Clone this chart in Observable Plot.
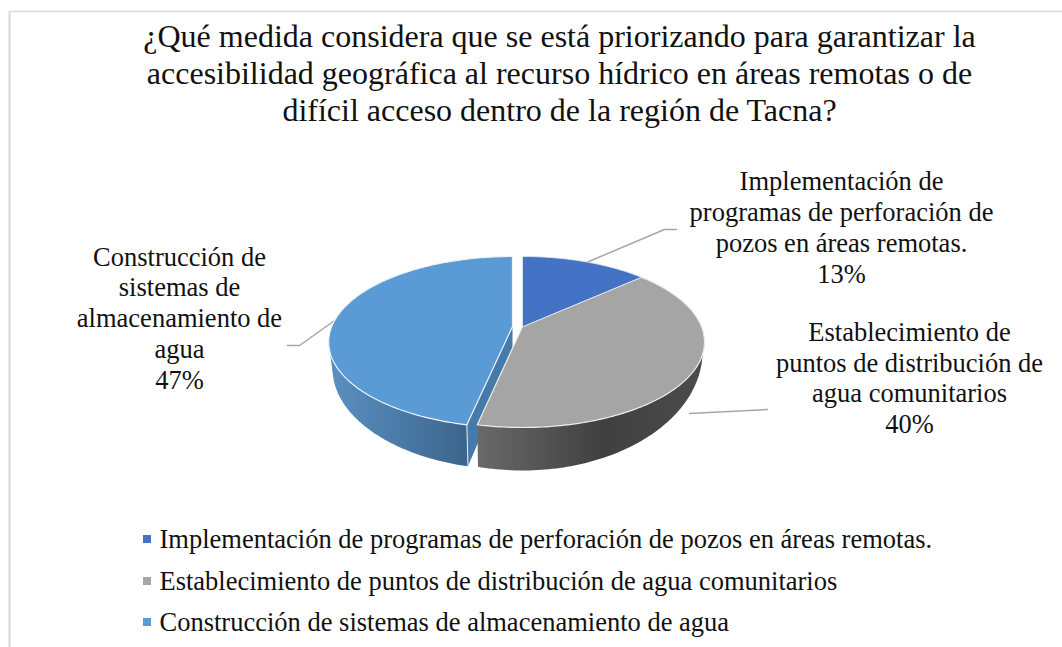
<!DOCTYPE html>
<html lang="es"><head><meta charset="utf-8">
<script src="https://cdn.jsdelivr.net/npm/d3@7"></script>
<script src="https://cdn.jsdelivr.net/npm/@observablehq/plot@0.6"></script>
<style>html,body{margin:0;padding:0;background:#fff;overflow:hidden}svg{display:block}</style>
</head><body><div id="chart"></div>
<script>
// Data
const categories = [
  "Implementación de programas de perforación de pozos en áreas remotas.",
  "Establecimiento de puntos de distribución de agua comunitarios",
  "Construcción de sistemas de almacenamiento de agua"
];
const shares = [13.33, 40, 46.67];
const colors = ["#4472C4", "#A5A5A5", "#5B9BD5"];
const titleLines = [
  "¿Qué medida considera que se está priorizando para garantizar la",
  "accesibilidad geográfica al recurso hídrico en áreas remotas o de",
  "difícil acceso dentro de la región de Tacna?"
];
const calloutLines = [
  ["Implementación de", "programas de perforación de", "pozos en áreas remotas."],
  ["Establecimiento de", "puntos de distribución de", "agua comunitarios"],
  ["Construcción de", "sistemas de", "almacenamiento de", "agua"]
];

// Layout
const W = 1062, H = 647, serif = "Liberation Serif";
const top3d = {x0: 522, y0: 326, rx: 179, ry: 82.7, k: 0.181};
const lowApexY = 361, lowRx = 180;
const lowGray = {c: 351, s: 119}, lowBlue = {c: 368, s: 101};
const explode = [[0,0],[0,0],[-10,0]];
const rimScale = [1, 1, 1.01];
const calloutX = [841, 909, 179];
const calloutY = [[181,212,243,274],[332,363,393,424],[257,287,318,349,380]];
const leaders = [
  [[586,262],[664,229],[676,229]],
  [[689,413],[767,409]],
  [[337,318],[299,345],[287,345]]
];
const legendY = [539, 581, 622];

// Geometry derived from the shares
const total = d3.sum(shares);
let acc = 0;
const arcs = shares.map(v => { const a = acc / total * 360; acc += v; return [a, acc / total * 360]; });
const proj = (deg, off = [0,0], sc = 1) => {
  const p = top3d, t = deg * Math.PI / 180, u = Math.sin(t), v = Math.cos(t), d = 1 + p.k * v;
  return {x: p.x0 + off[0] + sc * p.rx * u / d, y: p.y0 + off[1] - p.ry * v / d};
};
const lowRim = (deg, off, e) => {
  const xo = Math.min(lowRx, Math.abs(proj(deg).x - top3d.x0) * 0.985), sgn = proj(deg).x < top3d.x0 ? -1 : 1;
  return {x: top3d.x0 + off[0] + sgn * xo, y: e.c + e.s * Math.sqrt(1 - (xo / lowRx) ** 2)};
};
const sweep = (a, b) => { const n = Math.max(2, Math.ceil(Math.abs(b - a))); return d3.range(n + 1).map(i => a + (b - a) * i / n); };
const apex = off => ({x: top3d.x0 + off[0], y: top3d.y0 + off[1]});
const wedge = i => [apex(explode[i]), ...sweep(...arcs[i]).map(a => proj(a, explode[i], rimScale[i]))];
const wall = (a, b, off, e, sc) => [...sweep(a, b).map(t => proj(t, off, sc)), ...sweep(b, a).map(t => lowRim(t, off, e))];

const xy = {x: "x", y: "y"};
const face = (pts, fill, stroke = "none", sw = 0) =>
  Plot.line(pts, {...xy, fill, stroke, strokeWidth: sw, curve: "linear-closed", strokeLinejoin: "round"});

const defs = () => {
  const s = d3.create("svg:defs");
  const grad = (id, x1, x2, stops) => {
    const g = s.append("linearGradient").attr("id", id).attr("gradientUnits", "userSpaceOnUse")
      .attr("x1", x1).attr("x2", x2).attr("y1", 0).attr("y2", 0);
    stops.forEach(([o, c]) => g.append("stop").attr("offset", o).attr("stop-color", c));
  };
  grad("sideGray", 478, 704, [[0,"#696969"],[0.55,"#404040"],[1,"#4b4b4b"]]);
  grad("sideBlue", 330, 466, [[0,"#5a90c2"],[1,"#3c658c"]]);
  return s.node();
};

const txt = (rows, opts) => Plot.text(rows, {x: "x", y: "y", text: "t", fontFamily: serif, fill: "#111", lineAnchor: "middle", ...opts});

const titleRows = titleLines.map((t, i) => ({t, x: 559, y: [36,73,110][i]}));
const calloutRows = calloutLines.flatMap((lines, i) => {
  const all = [...lines, `${d3.format(".0f")(shares[i])}%`];
  return all.map((t, j) => ({t, x: calloutX[i], y: calloutY[i][j]}));
});
const legendRows = categories.map((t, i) => ({t, x: 159, y: legendY[i]}));
const swatches = categories.map((c, i) => ({c: colors[i], x1: 143, x2: 151, y1: legendY[i] - 4, y2: legendY[i] + 4}));
const blueOff = explode[2], blueCorner = proj(arcs[2][0], blueOff, rimScale[2]), blueLow = lowRim(arcs[2][0], blueOff, lowBlue);

const chart = Plot.plot({
  width: W, height: H, margin: 0,
  x: {domain: [0, W], range: [0, W], axis: null},
  y: {domain: [0, H], range: [0, H], axis: null},
  marks: [
    defs,
    Plot.ruleY([11], {x1: 9, x2: W, stroke: "#d9d9d9", strokeWidth: 1.5}),
    Plot.ruleX([9], {y1: 11, y2: H, stroke: "#d9d9d9", strokeWidth: 2}),
    ...leaders.map(l => Plot.line(l.map(([x,y]) => ({x,y})), {...xy, stroke: "#a6a6a6", strokeWidth: 1.5, curve: "linear"})),
    // blue slice
    face(wall(arcs[2][0], 260, blueOff, lowBlue, rimScale[2]), "url(#sideBlue)"),
    face([apex(blueOff), blueCorner, blueLow, {x: top3d.x0 + blueOff[0], y: lowApexY}], "#457BAB"),
    Plot.line([blueCorner, blueLow], {...xy, stroke: "#e8eef5", strokeWidth: 1}),
    face(wedge(2), colors[2], "#eef3f8", 1.2),
    // gray slice
    face(wall(100, arcs[1][1], explode[1], lowGray, rimScale[1]), "url(#sideGray)"),
    face(wedge(1), colors[1], "#ececec", 1.2),
    // dark-blue slice
    face(wedge(0), colors[0], "#e6ebf5", 0.8),
    // texts
    txt(titleRows, {fontSize: 32}),
    txt(calloutRows, {fontSize: 26.5}),
    Plot.rect(swatches, {x1: "x1", x2: "x2", y1: "y1", y2: "y2", fill: "c"}),
    txt(legendRows, {fontSize: 26.5, textAnchor: "start"})
  ]
});
document.getElementById("chart").append(chart);
</script></body></html>
